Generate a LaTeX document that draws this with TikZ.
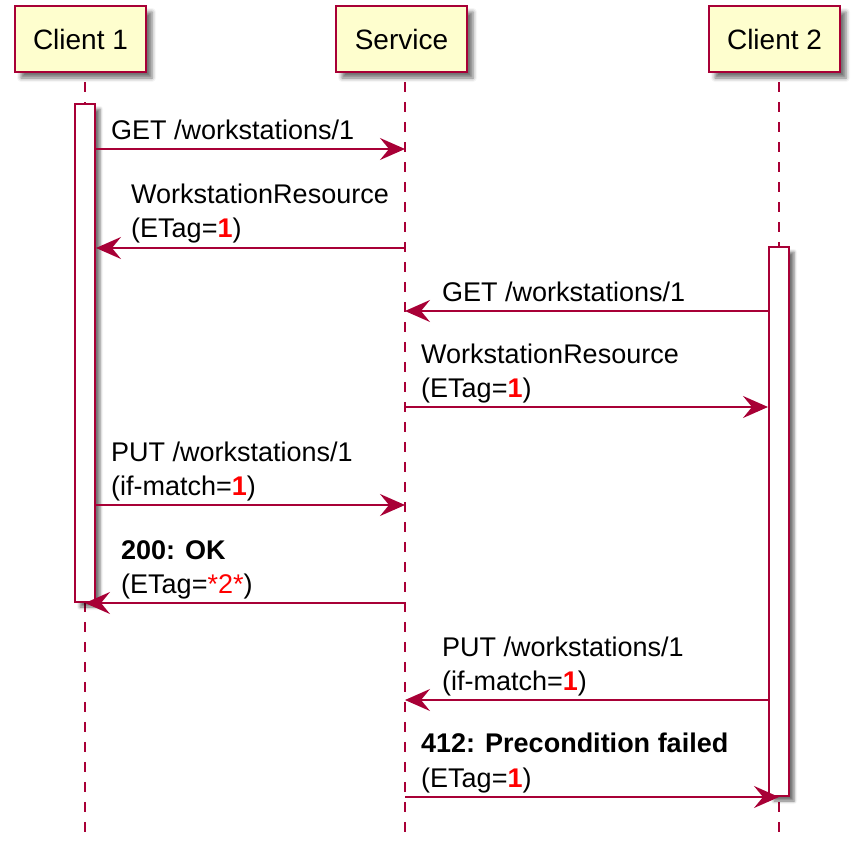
\documentclass[tikz,border=0pt]{standalone}
\usepackage{fontspec}
\setmainfont{Liberation Sans}
\usetikzlibrary{arrows.meta,shadows.blur}
\definecolor{pumlred}{HTML}{A80036}
\definecolor{pumlfill}{HTML}{FEFECE}
\begin{document}
\begin{tikzpicture}[x=1pt,y=-1pt,
  part/.style={draw=pumlred, fill=pumlfill, line width=2.6pt, minimum width=131pt, minimum height=66pt, inner sep=0pt,
    font=\fontsize{28}{34}\selectfont,
    blur shadow={shadow xshift=6pt, shadow yshift=-6pt, shadow blur radius=4pt, shadow opacity=55}},
  life/.style={draw=pumlred, line width=1.5pt, dash pattern=on 10pt off 10pt, dash phase=10pt},
  actbar/.style={draw=pumlred, fill=white, line width=2pt, minimum width=20pt, inner sep=0pt,
    blur shadow={shadow xshift=5pt, shadow yshift=-5pt, shadow blur radius=3pt, shadow opacity=55}},
  msg/.style={draw=pumlred, line width=1.8pt, -{Stealth[length=25pt,width=22pt,inset=9pt]}},
  lbl/.style={anchor=base west, inner sep=0pt, font=\fontsize{27}{34}\selectfont},
]
\useasboundingbox (0,0) rectangle (860,857);

% lifeline coordinates
\coordinate (L1t) at (85,72);  \coordinate (L1b) at (85,835);
\coordinate (L2t) at (405,72); \coordinate (L2b) at (405,835);
\coordinate (L3t) at (779,72); \coordinate (L3b) at (779,835);
\draw[life] (L1t) -- (L1b);
\draw[life] (L2t) -- (L2b);
\draw[life] (L3t) -- (L3b);

% participants
\node[part] (c1) at (80.5,39) {Client 1};
\node[part] (sv) at (401.5,39) {Service};
\node[part] (c2) at (774.5,39) {Client 2};

% activation bars
\node[actbar, minimum height=498pt] (a1) at (85,353) {};
\node[actbar, minimum height=549pt] (a2) at (779,521.5) {};

% messages
\draw[msg] (a1.east |- 0,149) -- (L2t |- 0,149);
\node[lbl] (m1) at (111,139) {GET /workstations/1};

\draw[msg] (L2t |- 0,248) -- (a1.east |- 0,248);
\node[lbl] (m2a) at (131,203) {WorkstationResource};
\node[lbl] (m2b) at (131,237) {(ETag=\textcolor{red}{\bfseries 1})};

\draw[msg] (a2.west |- 0,311) -- (L2t |- 0,311);
\node[lbl] (m3) at (442,301) {GET /workstations/1};

\draw[msg] (L2t |- 0,407) -- (a2.west |- 0,407);
\node[lbl] (m4a) at (421,363) {WorkstationResource};
\node[lbl] (m4b) at (421,397) {(ETag=\textcolor{red}{\bfseries 1})};

\draw[msg] (a1.east |- 0,505) -- (L2t |- 0,505);
\node[lbl] (m5a) at (111,461) {PUT /workstations/1};
\node[lbl] (m5b) at (111,495) {(if-match=\textcolor{red}{\bfseries 1})};

\draw[msg] (L2t |- 0,603) -- (L1t |- 0,603);
\node[lbl] (m6a) at (121,559) {\bfseries 200: OK};
\node[lbl] (m6b) at (121,593) {(ETag=\textcolor{red}{*2*})};

\draw[msg] (a2.west |- 0,700) -- (L2t |- 0,700);
\node[lbl] (m7a) at (442,656) {PUT /workstations/1};
\node[lbl] (m7b) at (442,690) {(if-match=\textcolor{red}{\bfseries 1})};

\draw[msg] (L2t |- 0,797) -- (L3t |- 0,797);
\node[lbl] (m8a) at (421,752) {\bfseries 412: Precondition failed};
\node[lbl] (m8b) at (421,787) {(ETag=\textcolor{red}{\bfseries 1})};
\end{tikzpicture}
\end{document}
